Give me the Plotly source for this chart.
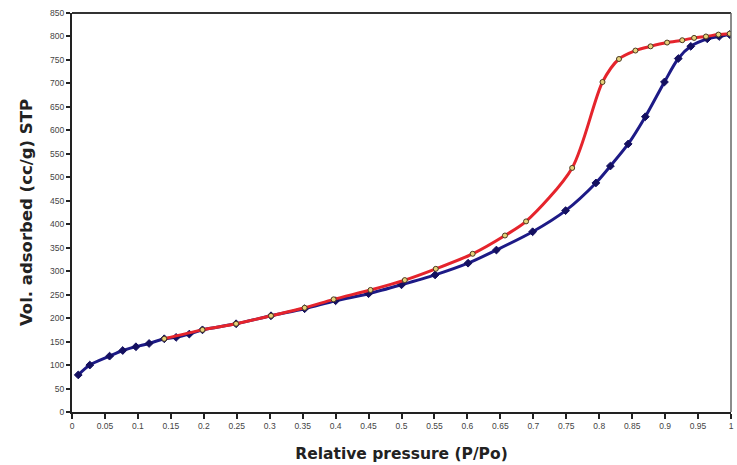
import plotly.graph_objects as go

# Adsorption branch (blue diamonds)
ads_x = [0.0095, 0.027, 0.057, 0.077, 0.097, 0.117, 0.14, 0.158, 0.178, 0.198,
         0.249, 0.302, 0.353, 0.40, 0.45, 0.50, 0.551, 0.601, 0.644, 0.699,
         0.749, 0.795, 0.817, 0.844, 0.870, 0.899, 0.92, 0.939, 0.964, 0.982, 0.998]
ads_y = [79, 100, 119, 131, 139, 146, 156, 159, 166, 175,
         188, 205, 220, 237, 252, 271, 292, 317, 345, 384,
         429, 488, 524, 571, 629, 703, 753, 779, 795, 800, 804]

# Desorption branch (red line, yellow circles)
des_x = [0.14, 0.198, 0.249, 0.302, 0.353, 0.397, 0.453, 0.505, 0.552, 0.608,
         0.657, 0.689, 0.759, 0.805, 0.830, 0.855, 0.878, 0.903, 0.926, 0.944,
         0.962, 0.981, 0.998]
des_y = [156, 175, 188, 205, 222, 240, 260, 281, 305, 337,
         376, 406, 520, 703, 752, 770, 779, 787, 792, 797,
         800, 804, 806]

x_ticks = [i * 0.05 for i in range(21)]
x_labels = ["0", "0.05", "0.1", "0.15", "0.2", "0.25", "0.3", "0.35", "0.4", "0.45",
            "0.5", "0.55", "0.6", "0.65", "0.7", "0.75", "0.8", "0.85", "0.9", "0.95", "1"]
y_ticks = list(range(0, 851, 50))

fig = go.Figure()
fig.add_trace(go.Scatter(
    x=ads_x, y=ads_y, mode="lines+markers",
    line=dict(color="#1d1a86", width=3, shape="spline", smoothing=0.8),
    marker=dict(symbol="diamond", size=6, color="#141060",
                line=dict(color="#141060", width=1)),
    showlegend=False))
fig.add_trace(go.Scatter(
    x=des_x, y=des_y, mode="lines+markers",
    line=dict(color="#e5242c", width=3, shape="spline", smoothing=0.8),
    marker=dict(symbol="circle", size=5, color="#e6d27a",
                line=dict(color="#4a3a20", width=1)),
    showlegend=False))

title_font = "DejaVu Sans, Arial, sans-serif"
fig.update_layout(
    width=737, height=465,
    margin=dict(l=72, r=3, t=13, b=53),
    paper_bgcolor="white", plot_bgcolor="white",
    font=dict(family="Arial, Liberation Sans, sans-serif", color="#222"),
)
fig.update_xaxes(
    range=[0, 1], tickvals=x_ticks, ticktext=x_labels,
    tickfont=dict(size=8.5, color="#444"),
    showgrid=False, zeroline=False,
    showline=True, linecolor="#222", linewidth=2, mirror=False,
    ticks="outside", ticklen=5, tickwidth=2, tickcolor="#222",
    title=dict(text="<b>Relative pressure (P/Po)</b>",
               font=dict(size=15.5, color="#222", family=title_font),
               standoff=18),
)
fig.update_yaxes(
    range=[0, 850], tickvals=y_ticks,
    tickfont=dict(size=8.5, color="#444"),
    showgrid=False, zeroline=False,
    showline=True, linecolor="#222", linewidth=2, mirror=False,
    ticks="outside", ticklen=4, tickwidth=2, tickcolor="#222",
    title=dict(text="<b>Vol. adsorbed (cc/g) STP</b>",
               font=dict(size=16.5, color="#222", family=title_font),
               standoff=13),
)
# thin frame on top and right
fig.add_shape(type="line", xref="paper", yref="paper", x0=0, x1=1, y0=1, y1=1,
              line=dict(color="#333", width=2))
fig.add_shape(type="line", xref="paper", yref="paper", x0=1, x1=1, y0=0, y1=1,
              line=dict(color="#666", width=1.5))

fig.write_html("out.html")
